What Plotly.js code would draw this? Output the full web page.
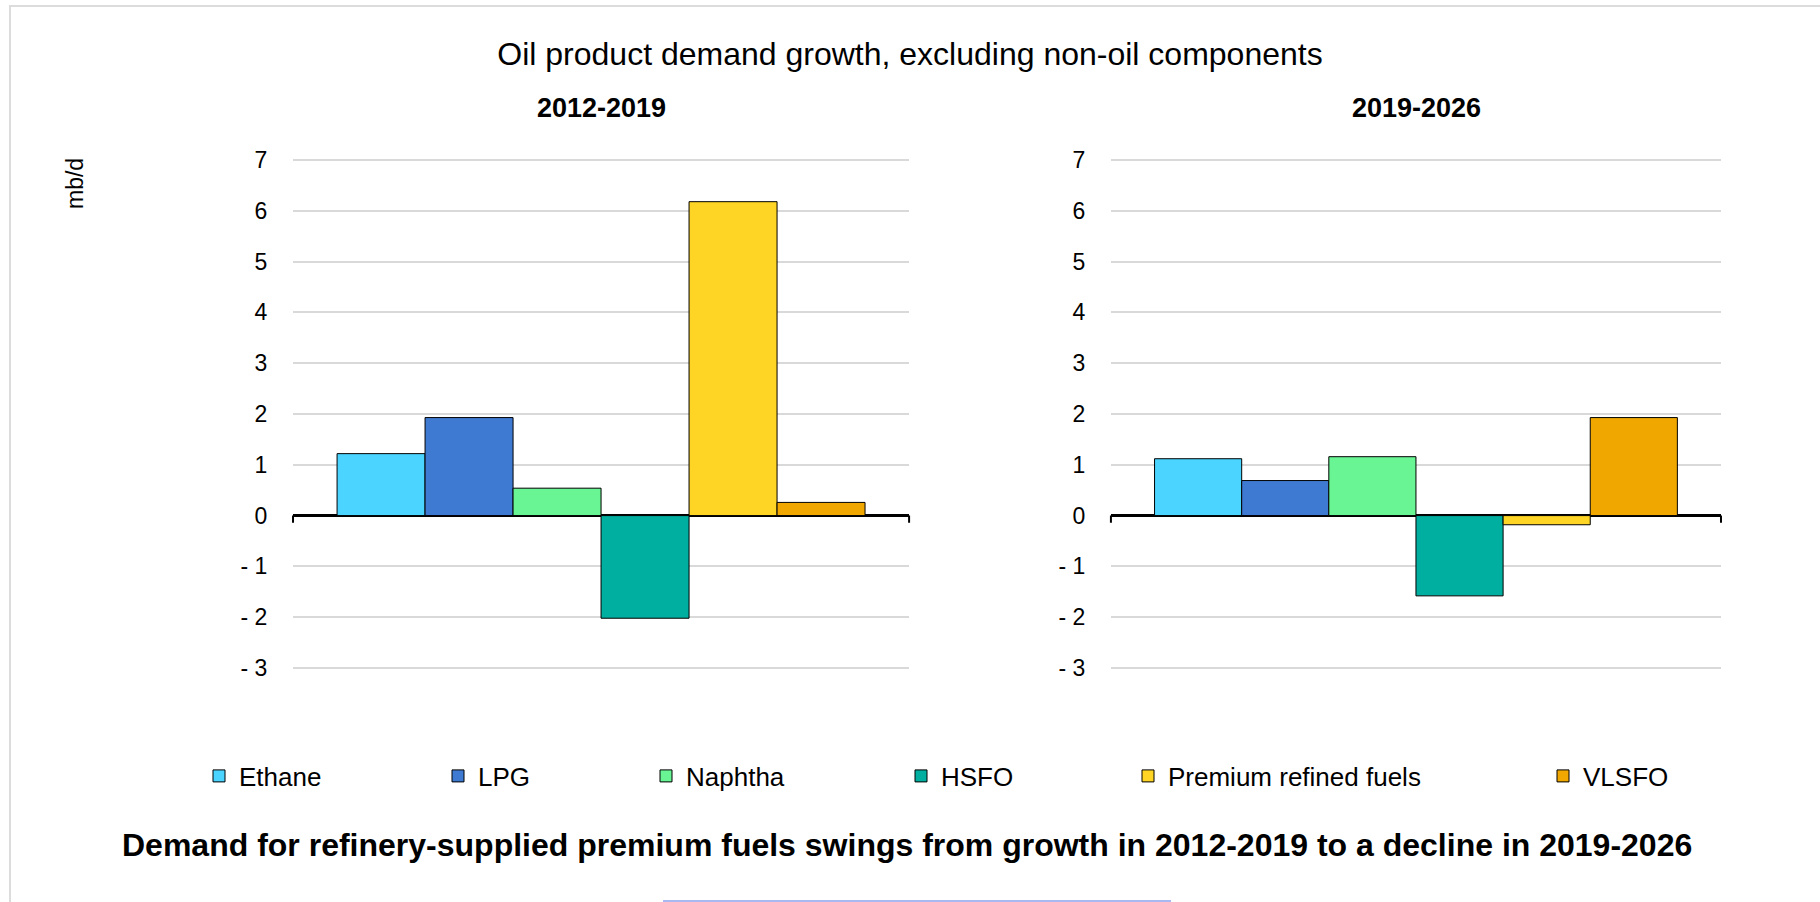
<!DOCTYPE html>
<html>
<head>
<meta charset="utf-8">
<script src="https://cdn.plot.ly/plotly-3.0.1.min.js"></script>
<style>
  html, body { margin: 0; padding: 0; background: #fff; }
  #fig { width: 1820px; height: 902px; }
</style>
</head>
<body>
<div id="fig"></div>
<script>
// Oil product demand growth (mb/d)
var fuels = ['Ethane', 'LPG', 'Naphtha', 'HSFO', 'Premium refined fuels', 'VLSFO'];
var periods = ['2012-2019', '2019-2026'];
var growth2012 = [1.22, 1.93, 0.54, -2.02, 6.18, 0.26];
var growth2019 = [1.12, 0.69, 1.16, -1.58, -0.18, 1.93];
var fuelColors = ['#4bd4ff', '#3f7ad2', '#6af594', '#00afa0', '#fed524', '#f0a800'];
var yTickVals = [-3, -2, -1, 0, 1, 2, 3, 4, 5, 6, 7];
var yTickText = ['- 3', '- 2', '- 1', '0', '1', '2', '3', '4', '5', '6', '7'];

// legend anchors (paper x), one legend per fuel like the excel layout
var legendX = [199, 438, 646, 901, 1128, 1543].map(function (p) { return p / 1820; });

var FONT = 'Liberation Sans, Arial, sans-serif';

var series = [];
for (var i = 0; i < fuels.length; i++) {
  var lg = i === 0 ? 'legend' : 'legend' + (i + 1);
  series.push({
    type: 'bar', name: fuels[i], x: [periods[0]], y: [growth2012[i]],
    xaxis: 'x', yaxis: 'y', legend: lg, showlegend: true,
    marker: {color: fuelColors[i], line: {color: '#000', width: 1}},
    hoverinfo: 'skip'
  });
  series.push({
    type: 'bar', name: fuels[i], x: [periods[1]], y: [growth2019[i]],
    xaxis: 'x2', yaxis: 'y2', showlegend: false,
    marker: {color: fuelColors[i], line: {color: '#000', width: 1}},
    hoverinfo: 'skip'
  });
}

function yAxis(anchor) {
  return {
    anchor: anchor, domain: [0.2566, 0.8254], range: [-3.05, 7.05],
    tickvals: yTickVals, ticktext: yTickText,
    ticks: 'outside', ticklen: 20, tickcolor: 'rgba(0,0,0,0)',
    tickfont: {family: FONT, size: 23, color: '#000'},
    showgrid: true, gridcolor: '#d9d9d9', gridwidth: 2,
    zeroline: true, zerolinecolor: '#000', zerolinewidth: 3,
    showline: false, fixedrange: true
  };
}

function xAxis(anchor, dom) {
  return {
    anchor: anchor, domain: dom, showticklabels: false, ticks: '',
    showgrid: false, zeroline: false, showline: false, fixedrange: true
  };
}

function note(txt, px, py, size, angle) {
  return {text: txt, xref: 'paper', yref: 'paper', x: px / 1820, y: 1 - py / 902,
          xanchor: 'center', yanchor: 'middle', textangle: angle || 0,
          showarrow: false, font: {family: FONT, size: size, color: '#000'}};
}

var layout = {
  width: 1820, height: 902,
  margin: {l: 0, r: 0, t: 0, b: 0},
  paper_bgcolor: '#fff', plot_bgcolor: '#fff',
  font: {family: FONT, color: '#000'},
  barmode: 'group', bargap: 0.143, bargroupgap: 0,
  title: {text: 'Oil product demand growth, excluding non-oil components',
          font: {family: FONT, size: 32, color: '#000'},
          x: 0.5, xanchor: 'center', y: 1 - 54 / 902, yanchor: 'middle'},
  xaxis: xAxis('y', [0.1610, 0.4995]),
  yaxis: yAxis('x'),
  xaxis2: xAxis('y2', [0.6104, 0.9456]),
  yaxis2: yAxis('x2'),
  annotations: [
    note('<b>2012-2019</b>', 601, 108, 27),
    note('<b>2019-2026</b>', 1416, 108, 27),
    note('mb/d', 75, 184, 23, -90),
    note('<b>Demand for refinery-supplied premium fuels swings from growth in 2012-2019 to a decline in 2019-2026</b>',
         907, 845, 32)
  ],
  shapes: [
    // small end ticks on the zero line
    {type: 'line', xref: 'x domain', yref: 'y', x0: 0, x1: 0, y0: 0, y1: -0.14, line: {color: '#000', width: 2}},
    {type: 'line', xref: 'x domain', yref: 'y', x0: 1, x1: 1, y0: 0, y1: -0.14, line: {color: '#000', width: 2}},
    {type: 'line', xref: 'x2 domain', yref: 'y2', x0: 0, x1: 0, y0: 0, y1: -0.14, line: {color: '#000', width: 2}},
    {type: 'line', xref: 'x2 domain', yref: 'y2', x0: 1, x1: 1, y0: 0, y1: -0.14, line: {color: '#000', width: 2}},
    // frame around the chart image
    {type: 'rect', xref: 'paper', yref: 'paper', x0: 10 / 1820, x1: 1.01, y0: -0.01, y1: 1 - 6 / 902,
     line: {color: '#dcdcdc', width: 2}},
    {type: 'line', xref: 'paper', yref: 'paper', x0: 663 / 1820, x1: 1171 / 1820, y0: 1 / 902, y1: 1 / 902,
     line: {color: '#a9b8f0', width: 2}}
  ]
};

for (var k = 0; k < fuels.length; k++) {
  var key = k === 0 ? 'legend' : 'legend' + (k + 1);
  layout[key] = {
    orientation: 'h', x: legendX[k], xanchor: 'left',
    y: 1 - 776 / 902, yanchor: 'middle', bgcolor: 'rgba(0,0,0,0)',
    borderwidth: 0, font: {family: FONT, size: 26, color: '#000'}
  };
}

Plotly.newPlot('fig', series, layout, {displayModeBar: false, staticPlot: true});
</script>
</body>
</html>
